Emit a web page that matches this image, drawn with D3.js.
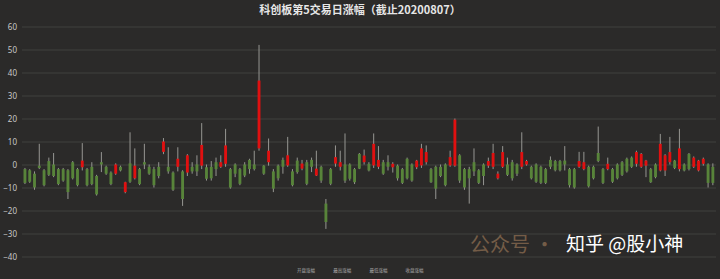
<!DOCTYPE html>
<html>
<head>
<meta charset="utf-8">
<script src="https://cdn.jsdelivr.net/npm/d3@7"></script>
<style>
  body { margin: 0; background: #2b2a29; }
  svg { display: block; }
</style>
</head>
<body>
<div id="zone_graphique"></div>
<script>
var largeur = 720;
var hauteur = 279;

// données :涨幅 (%) par titre, dans l'ordre du graphique
var ouverture = [-2,-2.5,-4,-0.5,-2.5,1.5,0,-2,-2,-2.5,1,-2,-1.2,-2,-1,-5,1,-1,-3.5,-4,
  -1,-12,0.5,-6,-2,1,-1,-2,-1,5.5,-1,-3.5,-1,-3,-3.5,-1,0,-0.5,-1.2,-1,
  1,-1,0.3,-2,0,-2,0,2,0,7,-0.5,1,-3,-0.5,2,-0.4,-3,1.7,-1.8,1,
  2,-4.8,-1,-17,-2,0.4,-1,0,0,-2,4.6,1,0.3,-0.4,-1,1,1,-1.2,-0.5,-2,
  2.5,0,-1.2,-0.4,1,-2,-1,-1,0,-0.4,-0.5,4,-2,-2,1,-2.5,0,-0.5,-1,-6,
  -1,0,1,0,-1,0,-1,0,-1,-2,2,1.5,1.5,1.7,-2,-2,-1,-2,-1,-1,
  5,-2,-2,-2,0,1,2.5,3,0.3,-1,-0.5,-2,0,-2.6,-2.6,1,1.7,-2,0,4.6,
  -1,-2.6,0.3,0,-1];
var plusHaut = [-1.5,-2,-3,9,-2,3,5,-1.5,-1.5,-2,1.5,-1.5,9.3,-1.5,1,-4.5,5.4,-0.5,-3,0.5,
  -0.5,-7.5,14,7,-1.5,9,0,-1,1,11.5,7.5,-3,7.5,-2.5,4.5,1,4,18,0,1.5,
  3,4,15.5,-1.5,0.5,-1.5,1,2.5,6,52,-0.3,11.3,-2,0,3,12,-2,3,2,2,
  3,6,-0.5,-15,-1.5,8.3,6,13.5,0.5,-1.5,5,6.5,1,13.5,8,2,4,1,0,-1.5,
  3,0.5,2,9,8.3,-1.5,-0.5,0,0.5,6,20,4.5,-1.5,-1,7,-2,0.5,3,9,-3,
  8,3,2,0.5,14,2,-0.5,0.5,-0.5,-1.5,3.5,2,2,8,-1.5,-1.5,5.5,5.5,-0.5,-0.5,
  16.5,-1.5,3,-1.5,0.5,1.5,3,3.5,6,5,2,-1.5,0.5,13.3,4.5,12,2,15.5,0.5,5,
  3.5,2,3,0.5,0.5];
var plusBas = [-8.5,-8,-11,-2,-9.5,-5,-5.5,-9,-7.5,-15,-6.5,-9.5,-2.6,-9.5,-9,-13.5,-3.3,-4.5,-9,-4.5,
  -3,-12.5,-8,-6.5,-9,-2,-4.5,-10,-6,4.5,-4,-11.5,-3,-18,-5,-4,-5,-2,-7,-7,
  -5,-1.5,-1,-10.5,-5.5,-9,-5.5,-4,-2.6,6,-4.5,-0.5,-12,-7,-4,-1,-9.5,-4,-2.5,-9,
  -3.3,-5,-8,-28,-9,-1,-2.6,-8,-7,-8.5,-2,0,-3,-1.5,-2,-4.5,-2.6,-3.5,-7,-8.5,
  -6.5,-7.5,-2,-1.5,0,-8,-15,-5.5,-9.5,-1,-1,-8,-11,-17,-5,-8.5,-9,-1.5,-2,-6.5,
  -1.5,-5,-7,-5,-2,-0.5,-6.5,-8,-8.5,-8.5,-2,-3,-3,-2.6,-10,-10.5,-1.5,-2.5,-10,-6.5,
  1,-8.5,-2.5,-8,-6.5,-5,-3.5,-1.5,-1,-1.5,-5.5,-8,-6,-3,-5,0,-2,-3,-3,-2.6,
  -1.5,-3,-0.5,-10,-9];
var cloture = [-8,-7.5,-10,-1.5,-9,-4.5,-5,-8.5,-7,-12,-6,-9,1.7,-9,-8.5,-13,0,-4,-8.5,0,
  -2.6,-7.7,-7.5,-0.5,-8.5,0,-4,-9,-5,10,-3,-11,2.5,-15,4,-3,-3,8.5,-6.2,-6,
  -2,1,8.3,-10,-4,-8.4,-4.8,-2,-2,36.5,-4,6,-10.5,-6,-1,4,-9,-3.3,0.4,-8.4,
  -1,-1.8,-7,-25,-8.4,3.2,1,-7,-6.2,-7.7,-1.8,3.9,-2.6,9,2,-4,-1,0.3,-6,-8,
  -6,-7,1.7,7,5.4,-7.7,-10.5,-5,-9,3.2,19.5,-7,-10,-6,-3,-8,-5,1.5,5,-4,
  5.4,-4.5,-6,-4,5.4,1.5,-6,-7.5,-8,-8,-1,-2.5,-2.5,0,-9,-10,1.5,1,-9.5,-6,
  1.5,-8,0.3,-7.5,-6,-4.5,-3,-1,5.4,4.6,1.7,-7.7,-5.5,9,4,5.4,-1.5,7,-2.6,-2,
  3,1.7,2.5,-8,-8];

var graduations = [60, 50, 40, 30, 20, 10, 0, -10, -20, -30, -40];
var legende = ["开盘涨幅", "最高涨幅", "最低涨幅", "收盘涨幅"];
var titre = "科创板第5交易日涨幅（截止20200807）";

var bougies = cloture.map(function (c, i) {
    return {i: i, o: ouverture[i], h: plusHaut[i], l: plusBas[i], c: c};
});

var svg = d3.select("#zone_graphique")
    .append("svg")
        .attr("width", largeur)
        .attr("height", hauteur);

svg.append("rect")
    .attr("width", largeur)
    .attr("height", hauteur)
    .attr("fill", "#2b2a29");

var x = d3.scaleBand()
    .domain(bougies.map(function (d) { return d.i; }))
    .range([21.6, 716.2])
    .padding(0.4);

var y = d3.scaleLinear()
    .domain([-40, 60])
    .range([256.5, 26.5]);

// grille + étiquettes de l'axe Y
var axeY = svg.append("g")
    .attr("transform", "translate(22,0)")
    .call(d3.axisLeft(y).tickValues(graduations).tickSize(-694).tickPadding(5));

axeY.select(".domain").remove();
axeY.selectAll(".tick line")
    .attr("stroke", "#41403e")
    .attr("stroke-width", 1);
axeY.selectAll(".tick text")
    .attr("fill", "#c8c8c8")
    .attr("font-family", "'Noto Sans', sans-serif")
    .attr("font-size", "8px");

var plot = svg.append("g");

// mèches
plot.selectAll("line.meche")
    .data(bougies)
    .enter()
    .append("line")
        .attr("class", "meche")
        .attr("x1", function (d) { return x(d.i) + x.bandwidth() / 2; })
        .attr("x2", function (d) { return x(d.i) + x.bandwidth() / 2; })
        .attr("y1", function (d) { return y(d.h); })
        .attr("y2", function (d) { return y(d.l); })
        .attr("stroke", "#969692")
        .attr("stroke-width", 1);

// corps
plot.selectAll("rect.corps")
    .data(bougies)
    .enter()
    .append("rect")
        .attr("class", "corps")
        .attr("x", function (d) { return x(d.i); })
        .attr("width", x.bandwidth())
        .attr("y", function (d) { return y(Math.max(d.o, d.c)); })
        .attr("height", function (d) { return Math.max(1, Math.abs(y(d.o) - y(d.c))); })
        .attr("fill", function (d) { return d.c >= d.o ? "#e01010" : "#58843a"; });

// titre
svg.append("text")
    .attr("x", 360)
    .attr("y", 14)
    .attr("text-anchor", "middle")
    .attr("font-family", "'Noto Sans CJK SC', sans-serif")
    .attr("font-weight", "bold")
    .attr("font-size", "11px")
    .attr("fill", "#e6e6e6")
    .text(titre);

// légende
svg.selectAll("text.legende")
    .data(legende)
    .enter()
    .append("text")
        .attr("class", "legende")
        .attr("x", function (d, i) { return 297 + i * 36.2; })
        .attr("y", 272)
        .attr("font-family", "'Noto Sans CJK SC', sans-serif")
        .attr("font-size", "4.5px")
        .attr("fill", "#a8a8a8")
        .text(function (d) { return d; });

// filigranes
svg.append("text")
    .attr("x", 470)
    .attr("y", 252)
    .attr("font-family", "'Noto Sans CJK SC', sans-serif")
    .attr("font-size", "20px")
    .attr("fill", "#b08660")
    .attr("opacity", 0.55)
    .text("公众号 ·");

svg.append("text")
    .attr("x", 566)
    .attr("y", 251)
    .attr("font-family", "'Noto Sans CJK SC', sans-serif")
    .attr("font-size", "19px")
    .attr("fill", "#ffffff")
    .text("知乎 @股小神");
</script>
</body>
</html>
